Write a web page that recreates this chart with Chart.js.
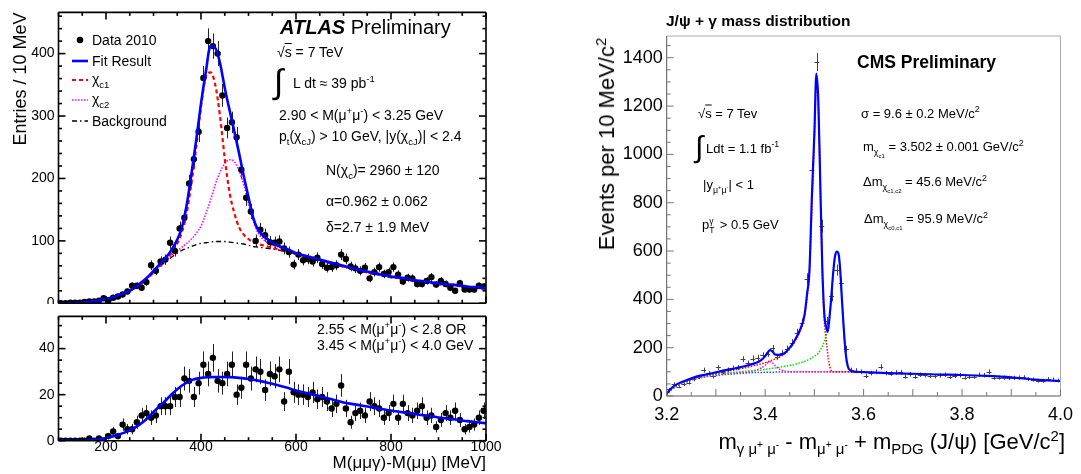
<!DOCTYPE html>
<html>
<head>
<meta charset="utf-8">
<script src="https://cdn.jsdelivr.net/npm/chart.js@4.4.0/dist/chart.umd.min.js"></script>
<style>
  body { margin:0; background:#fff; width:1081px; height:474px; position:relative; overflow:hidden;
         font-family:"Liberation Sans", Arial, Helvetica, sans-serif; color:#000; }
  canvas { position:absolute; }
  #atlasTop { left:0; top:0; }
  #atlasBottom { left:0; top:304px; background:#fff; }
  #cms { left:590px; top:0; }
  .t { position:absolute; white-space:nowrap; line-height:1; transform:translateY(-50%); font-size:14px; }
  .r { transform:translate(-100%,-50%); }
  .rot { position:absolute; white-space:nowrap; line-height:1; transform:translate(-50%,-50%) rotate(-90deg); }
  sub, sup { font-size:68%; line-height:0; }
  .ov { text-decoration:overline; }
  .c { font-size:13px; }
  .ss { position:relative; display:inline-block; width:7px; height:0; }
  .ss span { position:absolute; left:0; font-size:8.5px; line-height:1; }
</style>
</head>
<body>
<canvas id="atlasTop" width="510" height="320"></canvas>
<canvas id="atlasBottom" width="510" height="170"></canvas>
<canvas id="cms" width="491" height="474"></canvas>

<!-- ATLAS, текст -->
<div class="rot" style="left:20px;top:79px;font-size:18px">Entries / 10 MeV</div>
<div class="t" style="left:280px;top:27px;font-size:20px"><b><i>ATLAS</i></b> Preliminary</div>
<div class="t" style="left:277px;top:52px">&radic;<span class="ov">s</span> = 7 TeV</div>
<div class="t" style="left:274px;top:81px;font-size:34px">&int;</div>
<div class="t" style="left:293px;top:83px">L dt &asymp; 39 pb<sup>-1</sup></div>
<div class="t" style="left:279px;top:115px">2.90 &lt; M(&mu;<sup>+</sup>&mu;<sup>-</sup>) &lt; 3.25 GeV</div>
<div class="t" style="left:279px;top:136px">p<sub>t</sub>(&chi;<sub>cJ</sub>) &gt; 10 GeV, |y(&chi;<sub>cJ</sub>)| &lt; 2.4</div>
<div class="t" style="left:326px;top:170px">N(&chi;<sub>c</sub>)= 2960 &plusmn; 120</div>
<div class="t" style="left:326px;top:201px">&alpha;=0.962 &plusmn; 0.062</div>
<div class="t" style="left:326px;top:227px">&delta;=2.7 &plusmn; 1.9 MeV</div>

<svg style="position:absolute;left:70px;top:30px" width="20" height="100">
  <circle cx="10" cy="10" r="3.3" fill="#000"/>
  <line x1="2" y1="31" x2="18" y2="31" stroke="#0000ff" stroke-width="2.6"/>
  <line x1="2" y1="50" x2="18" y2="50" stroke="#ff0000" stroke-width="2.2" stroke-dasharray="4 3"/>
  <line x1="2" y1="70" x2="18" y2="70" stroke="#ff00ff" stroke-width="1.6" stroke-dasharray="1.5 1.5"/>
  <line x1="2" y1="91" x2="18" y2="91" stroke="#000" stroke-width="1.3" stroke-dasharray="5 3 1.5 3"/>
</svg>
<div class="t" style="left:92px;top:40px">Data 2010</div>
<div class="t" style="left:92px;top:61px">Fit Result</div>
<div class="t" style="left:92px;top:79px">&chi;<sub>c1</sub></div>
<div class="t" style="left:92px;top:99px">&chi;<sub>c2</sub></div>
<div class="t" style="left:92px;top:121px">Background</div>

<div class="t" style="left:317px;top:329px">2.55 &lt; M(&mu;<sup>+</sup>&mu;<sup>-</sup>) &lt; 2.8 OR</div>
<div class="t" style="left:317px;top:345px">3.45 &lt; M(&mu;<sup>+</sup>&mu;<sup>-</sup>) &lt; 4.0 GeV</div>
<div class="t r" style="left:486px;top:462px;font-size:17px">M(&mu;&mu;&gamma;)-M(&mu;&mu;) [MeV]</div>

<!-- CMS, текст -->
<div class="t" style="left:666px;top:21px;font-size:15.5px;font-weight:bold">J/&psi; + &gamma; mass distribution</div>
<div class="t" style="left:857px;top:63px;font-size:17.5px;font-weight:bold">CMS Preliminary</div>
<div class="rot" style="left:607px;top:144px;font-size:22px">Events per 10 MeV/c<sup>2</sup></div>
<div class="t r" style="left:1065px;top:442px;font-size:22px">m<sub>&gamma; &mu;<sup>+</sup> &mu;<sup>-</sup></sub> - m<sub>&mu;<sup>+</sup> &mu;<sup>-</sup></sub> + m<sub>PDG</sub> (J/&psi;) [GeV/c<sup>2</sup>]</div>
<div class="t c" style="left:698px;top:113px">&radic;<span class="ov">s</span> = 7 Tev</div>
<div class="t" style="left:695px;top:147px;font-size:30px">&int;</div>
<div class="t c" style="left:706px;top:148px">Ldt = 1.1 fb<sup>-1</sup></div>
<div class="t c" style="left:703px;top:184px">|y<sub>&mu;<sup>+</sup>&mu;<sup>-</sup></sub>| &lt; 1</div>
<div class="t c" style="left:702px;top:224px">p<span class="ss"><span style="top:-12px">&gamma;</span><span style="top:-3px">T</span></span> &gt; 0.5 GeV</div>
<div class="t c" style="left:861px;top:113px">&sigma; = 9.6 &plusmn; 0.2 MeV/c<sup>2</sup></div>
<div class="t c" style="left:863px;top:148px">m<sub>&chi;<sub>c1</sub></sub> = 3.502 &plusmn; 0.001 GeV/c<sup>2</sup></div>
<div class="t c" style="left:863px;top:183px">&Delta;m<sub>&chi;<sub>c1,c2</sub></sub> = 45.6 MeV/c<sup>2</sup></div>
<div class="t c" style="left:864px;top:220px">&Delta;m<sub>&chi;<sub>c0,c1</sub></sub> = 95.9 MeV/c<sup>2</sup></div>

<script>
// ATLAS: центры бинов (МэВ), общие для верхней и нижней панелей
const atlasBinX = [105,115,125,135,145,155,165,175,185,195,205,215,225,235,245,255,265,275,285,295,
  305,315,325,335,345,355,365,375,385,395,405,415,425,435,445,455,465,475,485,495,
  505,515,525,535,545,555,565,575,585,595,605,615,625,635,645,655,665,675,685,695,
  705,715,725,735,745,755,765,775,785,795,805,815,825,835,845,855,865,875,885,895,
  905,915,925,935,945,955,965,975,985,995];

// верхняя панель: 2.90 < M(mumu) < 3.25 GeV
const atlasTopData = [0,0,1,1,1,2,3,3,4,8,
  5,9,11,14,19,28,28,25,34,61,
  52,67,70,97,84,120,137,192,231,275,
  361,420,412,400,333,281,290,266,214,169,
  147,100,118,109,98,97,99,88,82,62,
  78,69,71,67,73,63,57,58,61,78,
  71,59,56,52,57,40,50,58,47,50,
  58,46,35,41,40,31,31,36,42,30,
  36,31,25,20,32,22,22,22,28,27];

// нижняя панель: боковые полосы
const atlasBottomData = [0,0,0,0,0,0,1,0,1,0,
  2,4,2,7,5,5,8,11,12,10,
  11,15,15,15,19,19,27,26,19,25,
  33,29,36,26,25,29,33,20,23,33,
  27,31,30,22,29,28,31,17,30,21,
  20,20,19,21,18,19,17,14,16,24,
  14,8,12,13,11,17,15,14,10,12,
  16,10,16,12,11,13,15,10,11,6,
  9,12,10,13,9,5,6,7,10,13];

// кривые фита (шаг 10 МэВ)
const atlasCurveX = [100,110,120,130,140,150,160,170,180,190,200,210,220,230,240,250,260,270,280,290,
  300,310,320,330,340,350,360,370,380,390,400,410,420,430,440,450,460,470,480,490,
  500,510,520,530,540,550,560,570,580,590,600,610,620,630,640,650,660,670,680,690,
  700,710,720,730,740,750,760,770,780,790,800,810,820,830,840,850,860,870,880,890,
  900,910,920,930,940,950,960,970,980,990,1000];
const atlasFit = [0,0,0.2,0.4,0.8,1.3,2,3,4,5.5,
  7,9,11.5,14,17,20,25,31,37,44,
  52,60,68,77,88,102,122,158,208,262,
  320,370,412,409,385,345,310,276,241,204,
  170,137,118,109,103,97,93,90,87,84,
  80,78,76,74,72,70,68,66,64,62,
  60,58,56,54,52,51,49,48,46,45,
  43,42,41,40,38,37,36,35,34,33,
  32,31,30,30,29,28,27,26,26,25,
  24.5];
const atlasChic1 = [0,0,0.2,0.4,0.8,1.2,2,3,4,5,
  7,9,11,14,17,19,24,29,35,42,
  49,57,65,73,83,96,114,145,193,250,
  315,362,370,350,300,232,178,145,122,110,
  103,98,95,93,91,89,87,85,83,81,
  79,77,75,73,71,69,67,65,63,61,
  59,57,55,53,51,50,48,47,45,44,
  42,41,40,39,37,36,35,34,33,32,
  31,30,29,29,28,27,26,25,25,24,
  23.5];
const atlasChic2 = [0,0,0.2,0.4,0.8,1.2,2,3,4,5,
  7,9,11,14,17,19,24,29,35,42,
  50,57,64,71,78,84,90,96,103,112,
  124,143,165,190,210,224,230,227,213,190,
  160,132,113,103,97,93,91,88,86,83,
  79,77,75,73,71,69,67,65,63,61,
  59,57,55,53,51,50,48,47,45,44,
  42,41,40,39,37,36,35,34,33,32,
  31,30,29,29,28,27,26,25,25,24,
  23.5];
const atlasBkg = [0,0,0.2,0.4,0.8,1.2,2,3,4,5,
  7,9,11,14,17,19,24,29,35,42,
  50,57,63,69,75,80,85,88,91,94,
  96,97,98,99,99,99,98,97,96,95,
  93,91,90,89,88,87,86,84,83,81,
  78,76,74,72,70,68,66,64,62,60,
  58,56,54,52,50,49,47,46,44,43,
  41,40,39,38,36,35,34,33,32,31,
  30,29,28,28,27,26,25,24,24,23,
  23];

// фит боковых полос (шаг 20 МэВ)
const atlasSideX = [100,120,140,160,180,200,220,240,260,280,300,320,340,360,380,400,420,440,460,480,
  500,520,540,560,580,600,620,640,660,680,700,720,740,760,780,800,820,840,860,880,
  900,920,940,960,980,1000];
const atlasSideFit = [0,0,0,0.1,0.4,1.2,2.2,3.6,5.6,8.5,12.5,16.3,20.5,24,26.3,27.3,27.6,27.7,27.6,27.3,
  26.8,26.1,25.2,24.2,23.1,21.8,20.8,19.8,18.8,17.7,16.6,15.9,15.2,14.5,13.8,13.1,12.5,11.9,11.3,10.7,
  10.1,9.6,9.1,8.5,8,7.6];

const atlasXTicks = [200,400,600,800,1000];
const atlasTopYTicks = [0,100,200,300,400];
const atlasBottomYTicks = [0,20,40];

// CMS: центры бинов (ГэВ)
const cmsBinX = [3.205,3.215,3.225,3.235,3.245,3.255,3.265,3.275,3.285,3.295,
  3.305,3.315,3.325,3.335,3.345,3.355,3.365,3.375,3.385,3.395,
  3.405,3.415,3.425,3.435,3.445,3.455,3.465,3.475,3.485,3.495,
  3.505,3.515,3.525,3.535,3.545,3.555,3.565,3.575,3.585,3.595,
  3.605,3.615,3.625,3.635,3.645,3.655,3.665,3.675,3.685,3.695,
  3.705,3.715,3.725,3.735,3.745,3.755,3.765,3.775,3.785,3.795,
  3.805,3.815,3.825,3.835,3.845,3.855,3.865,3.875,3.885,3.895,
  3.905,3.915,3.925,3.935,3.945,3.955,3.965,3.975,3.985,3.995];
const cmsData = [28,50,39,48,55,69,78,107,94,82,
  118,100,108,115,118,152,135,155,158,168,
  175,197,162,178,195,220,262,303,486,934,
  1382,703,310,412,521,468,194,107,105,100,
  83,95,100,121,95,93,97,98,80,90,
  80,88,86,84,82,85,88,80,84,86,
  76,79,80,88,86,100,76,76,76,75,
  75,76,77,70,68,63,63,70,68,64];

const cmsCurveX = [3.200,3.210,3.220,3.240,3.260,3.280,3.300,3.320,3.340,3.360,
  3.380,3.390,3.400,3.405,3.410,3.415,3.420,3.430,3.440,3.450,
  3.460,3.470,3.480,3.485,3.490,3.495,3.500,3.504,3.508,3.512,
  3.516,3.520,3.524,3.527,3.530,3.534,3.538,3.542,3.546,3.549,
  3.552,3.556,3.560,3.564,3.568,3.574,3.580,3.600,3.650,3.700,
  3.750,3.800,3.850,3.900,3.950,4.000];
const cmsFit = [10,33,48,65,80,89,98,107,115,124,
  136,145,165,180,190,184,172,170,178,200,
  230,270,335,420,520,830,1086,1334,1224,880,
  540,345,285,266,310,400,505,580,598,590,
  535,400,270,170,122,105,101,99,95,92,
  89,87,83,77,68,62];
// компоненты (до 3.6, дальше совпадают с фитом)
const cmsChic1 = [8,30,45,62,76,86,94,102,109,117,
  127,132,138,141,145,149,154,163,175,195,
  225,265,330,405,510,780,1070,1300,1200,860,
  520,320,230,175,135,106,101,100,100,100,
  100,100,100,100,100,100,100,99];
const cmsChic2 = [5,28,42,60,74,83,90,95,99,102,
  106,107,110,112,113,115,116,120,123,127,
  131,137,143,147,152,158,165,170,177,190,
  205,225,250,266,300,395,500,575,593,585,
  530,395,265,165,118,103,100,99];
const cmsChic0 = [5,28,42,60,73,81,87,92,96,99,
  106,114,127,137,142,137,126,110,103,101,
  100,100,100,100,100,100,100,100,100,100,
  100,100,100,100,100,100,100,100,100,100,
  100,100,100,100,100,100,100,99];
const cmsBkg = [4,26,40,58,71,79,85,89,92,95,
  97,97,98,98,98,98,99,99,99,99,
  100,100,100,100,100,100,100,100,100,100,
  100,100,100,100,100,100,100,100,100,100,
  100,100,100,100,100,100,100,99];

const cmsXTicks = [3.2,3.4,3.6,3.8,4.0];
const cmsYTicks = [0,200,400,600,800,1000,1200,1400];

const fontFamily = '"Liberation Sans", Arial, Helvetica, sans-serif';
const xy = (xs, ys) => ys.map((v, i) => ({ x: xs[i], y: v }));

// рамка и засечки внутрь, как в ROOT
const rootFrame = {
  id: 'rootFrame',
  afterDatasetsDraw(chart, args, o) {
    const { ctx, chartArea: a, scales: { x, y } } = chart;
    const seg = (x1, y1, x2, y2) => { ctx.beginPath(); ctx.moveTo(x1, y1); ctx.lineTo(x2, y2); ctx.stroke(); };
    ctx.save();
    ctx.lineWidth = o.width;
    ctx.strokeStyle = o.farColor || o.color;
    seg(a.left, a.top, a.right, a.top);
    seg(a.right, a.top, a.right, a.bottom);
    ctx.strokeStyle = o.color;
    seg(a.left, a.bottom, a.right, a.bottom);
    seg(a.left, a.top, a.left, a.bottom);
    ctx.strokeStyle = o.tickColor || o.color;
    ctx.lineWidth = o.tickWidth || o.width;
    const eachTick = (scale, minor, major, fn) => {
      const k0 = Math.ceil(scale.min / minor - 1e-6), k1 = Math.floor(scale.max / minor + 1e-6);
      for (let k = k0; k <= k1; k++) {
        const r = k * minor / major;
        fn(scale.getPixelForValue(k * minor), Math.abs(r - Math.round(r)) < 1e-6 ? o.majorLen : o.minorLen);
      }
    };
    eachTick(y, o.yMinor, o.yMajor, (p, len) => {
      seg(a.left, p, a.left + len, p);
      if (o.mirror) seg(a.right, p, a.right - len, p);
    });
    eachTick(x, o.xMinor, o.xMajor, (p, len) => {
      seg(p, a.bottom, p, a.bottom - len);
      if (o.mirror) seg(p, a.top, p, a.top + len);
    });
    ctx.restore();
  }
};

// планки ошибок (пуассоновские)
const errorBars = {
  id: 'errorBars',
  beforeDatasetsDraw(chart) {
    const { ctx, chartArea: a, scales: { x, y } } = chart;
    ctx.save();
    ctx.beginPath();
    ctx.rect(a.left, a.top, a.width, a.height);
    ctx.clip();
    chart.data.datasets.forEach(ds => {
      if (!ds.errorBars) return;
      ctx.strokeStyle = ds.errorColor;
      ctx.lineWidth = 1;
      ds.data.forEach(p => {
        const e = Math.sqrt(p.y);
        const px = Math.round(x.getPixelForValue(p.x)) + 0.5;
        ctx.beginPath();
        if (e > 0) {
          ctx.moveTo(px, y.getPixelForValue(p.y - e));
          ctx.lineTo(px, y.getPixelForValue(p.y + e));
        }
        if (ds.halfBin) {
          const py = Math.round(y.getPixelForValue(p.y)) + 0.5;
          ctx.moveTo(x.getPixelForValue(p.x - ds.halfBin), py);
          ctx.lineTo(x.getPixelForValue(p.x + ds.halfBin), py);
        }
        ctx.stroke();
      });
    });
    ctx.restore();
  }
};

function curve(xs, ys, color, width, dash) {
  return { type: 'line', data: xy(xs, ys), borderColor: color, borderWidth: width, borderDash: dash || [],
           pointRadius: 0, fill: false, cubicInterpolationMode: 'monotone' };
}

function yAxis(min, max, ticks, width, size) {
  return {
    type: 'linear', min: min, max: max,
    afterBuildTicks: s => { s.ticks = ticks.map(v => ({ value: v })); },
    afterFit: s => { s.width = width; },
    grid: { display: false, drawTicks: false },
    border: { display: false },
    ticks: { autoSkip: false, padding: 4, color: '#000', font: { family: fontFamily, size: size },
             callback: v => String(v) }
  };
}

function xAxis(min, max, ticks, height, size, pad, fmt) {
  return {
    type: 'linear', min: min, max: max,
    afterBuildTicks: s => { s.ticks = ticks.map(v => ({ value: v })); },
    afterFit: s => { s.height = height; },
    grid: { display: false, drawTicks: false },
    border: { display: false },
    ticks: { autoSkip: false, maxRotation: 0, padding: pad, color: '#000',
             font: { family: fontFamily, size: size }, callback: fmt || (v => String(v)) }
  };
}

const base = { responsive: false, animation: false, devicePixelRatio: 1 };
const noLegend = { legend: { display: false }, tooltip: { enabled: false } };

// ATLAS, верх
new Chart(document.getElementById('atlasTop'), {
  type: 'scatter',
  data: { datasets: [
    curve(atlasCurveX, atlasFit, '#0000ff', 2.6),
    { type: 'scatter', data: xy(atlasBinX, atlasTopData), backgroundColor: '#000', borderWidth: 0,
      pointRadius: 3.2, errorBars: true, errorColor: '#222' },
    curve(atlasCurveX, atlasChic1, '#ff0000', 2.2, [4, 3]),
    curve(atlasCurveX, atlasChic2, '#ff00ff', 1.6, [1.5, 1.5]),
    curve(atlasCurveX, atlasBkg, '#000', 1.3, [5, 3, 1.5, 3])
  ] },
  options: Object.assign({}, base, {
    layout: { padding: { left: 0, right: 24, top: 7, bottom: 16.7 } },
    plugins: Object.assign({}, noLegend, { rootFrame: { color: '#000', width: 1.6, xMajor: 200, xMinor: 50,
      yMajor: 100, yMinor: 20, majorLen: 7, minorLen: 3.5, mirror: true } }),
    scales: {
      x: { type: 'linear', min: 100, max: 1000, display: false },
      y: yAxis(0, 466, atlasTopYTicks, 58.5, 14)
    }
  }),
  plugins: [errorBars, rootFrame]
});

// ATLAS, низ
new Chart(document.getElementById('atlasBottom'), {
  type: 'scatter',
  data: { datasets: [
    curve(atlasSideX, atlasSideFit, '#0000ff', 2.6),
    { type: 'scatter', data: xy(atlasBinX, atlasBottomData), backgroundColor: '#000', borderWidth: 0,
      pointRadius: 3.2, errorBars: true, errorColor: '#222' }
  ] },
  options: Object.assign({}, base, {
    layout: { padding: { left: 0, right: 24, top: 1, bottom: 0 } },
    plugins: Object.assign({}, noLegend, { rootFrame: { color: '#000', width: 1.6, xMajor: 200, xMinor: 50,
      yMajor: 20, yMinor: 5, majorLen: 7, minorLen: 3.5, mirror: true } }),
    scales: {
      x: xAxis(100, 1000, atlasXTicks, 33.3, 14, -2),
      y: yAxis(0, 54, atlasBottomYTicks, 58.5, 14)
    }
  }),
  plugins: [errorBars, rootFrame]
});

// CMS
const n = cmsChic1.length;
new Chart(document.getElementById('cms'), {
  type: 'scatter',
  data: { datasets: [
    curve(cmsCurveX, cmsFit, '#0000ff', 2.2),
    { type: 'scatter', data: xy(cmsBinX, cmsData), pointRadius: 0, errorBars: true,
      errorColor: '#444', halfBin: 0.005 },
    curve(cmsCurveX.slice(0, n), cmsChic1, '#ff0000', 1.5, [1.5, 1.5]),
    curve(cmsCurveX.slice(0, n), cmsChic2, '#00e000', 1.5, [1.5, 1.5]),
    curve(cmsCurveX.slice(0, n), cmsChic0, '#ff00ff', 1.5, [1.5, 1.5]),
    curve(cmsCurveX.slice(0, n), cmsBkg, '#4040ff', 1.5, [1.5, 1.5])
  ] },
  options: Object.assign({}, base, {
    layout: { padding: { left: 0, right: 16, top: 36, bottom: 0 } },
    plugins: Object.assign({}, noLegend, { rootFrame: { color: '#555', farColor: '#aaa', tickColor: '#777',
      width: 1, xMajor: 0.1, xMinor: 0.05, yMajor: 200, yMinor: 50, majorLen: 7, minorLen: 4, mirror: false } }),
    scales: {
      x: xAxis(3.2, 4.0, cmsXTicks, 78, 18, 8, v => v.toFixed(1)),
      y: yAxis(0, 1490, cmsYTicks, 76.7, 18)
    }
  }),
  plugins: [errorBars, rootFrame]
});
</script>
</body>
</html>
